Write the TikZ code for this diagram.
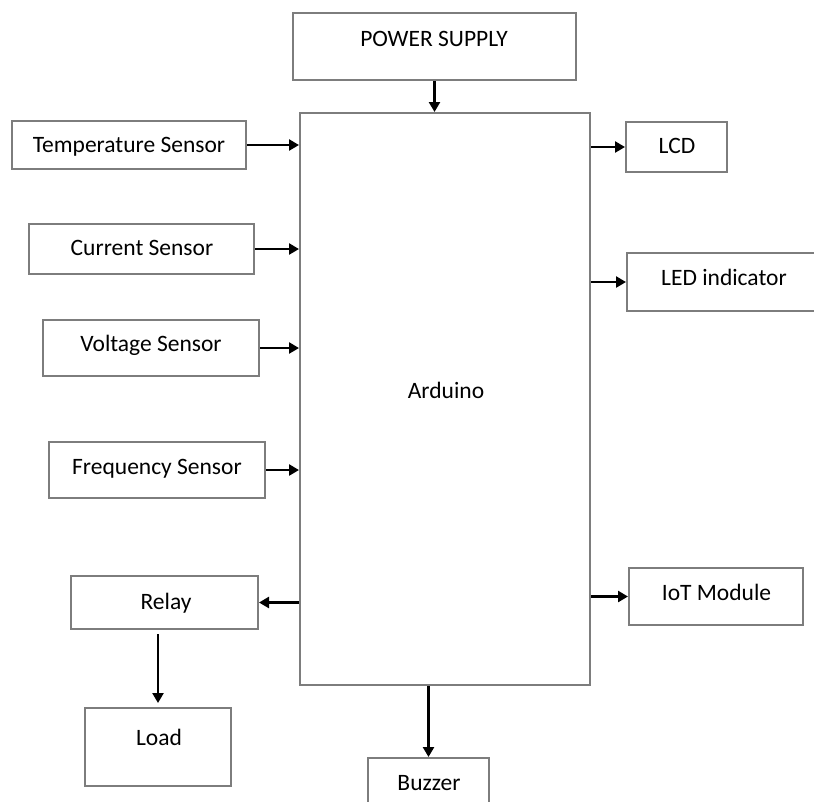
\documentclass[tikz,border=0pt]{standalone}
\usepackage{fontspec}
\setmainfont{Carlito}
\usetikzlibrary{positioning}
\usetikzlibrary{arrows.meta}
\definecolor{boxgray}{RGB}{125,125,125}

\begin{document}
\begin{tikzpicture}[x=1pt, y=-1pt,
    blk/.style={draw=boxgray, line width=2pt, inner sep=0pt},
    lbl/.style={font=\fontsize{23.5}{27}\selectfont, text height=15pt, text depth=4pt, inner sep=0pt},
    arr/.style={line width=2.6pt, -{Triangle[length=10pt,width=11pt]}}]
    \useasboundingbox (0,0) rectangle (814,801);

    \node[blk, minimum width=283pt, minimum height=67pt] (ps) at (434.5,46.5) {};
    \node[lbl] (ps-t) at (434,41) {POWER SUPPLY};

    \node[blk, minimum width=290pt, minimum height=572pt] (ard) at (445,399) {};
    \node[lbl] (ard-t) at (446,393) {Arduino};

    \node[blk, minimum width=234pt, minimum height=48pt] (temp) at (129,145) {};
    \node[lbl] (temp-t) at (129,147) {Temperature Sensor};
    \node[blk, minimum width=225pt, minimum height=50pt] (cur) at (141.5,249) {};
    \node[lbl] (cur-t) at (142,250) {Current Sensor};
    \node[blk, minimum width=216pt, minimum height=56pt] (volt) at (151,348) {};
    \node[lbl] (volt-t) at (151,346) {Voltage Sensor};
    \node[blk, minimum width=216pt, minimum height=56pt] (freq) at (157,470) {};
    \node[lbl] (freq-t) at (157,469) {Frequency Sensor};

    \node[blk, minimum width=187pt, minimum height=53pt] (relay) at (164.5,602.5) {};
    \node[lbl] (relay-t) at (166,604) {Relay};
    \node[blk, minimum width=146pt, minimum height=78pt] (load) at (158,747) {};
    \node[lbl] (load-t) at (159,740) {Load};
    \node[blk, minimum width=121pt, minimum height=64pt] (buzz) at (428.5,790) {};
    \node[lbl] (buzz-t) at (429,785) {Buzzer};

    \node[blk, minimum width=101pt, minimum height=50pt] (lcd) at (676.5,147) {};
    \node[lbl] (lcd-t) at (677,148) {LCD};
    \node[blk, minimum width=194pt, minimum height=58pt] (led) at (724,282) {};
    \node[lbl] (led-t) at (724,280) {LED indicator};
    \node[blk, minimum width=174pt, minimum height=57pt] (iot) at (716,596.5) {};
    \node[lbl] (iot-t) at (716.5,595) {IoT Module};

    \draw[arr] (ps.south) -- (ps.south |- ard.north);
    \draw[arr] (temp.east) -- (temp.east -| ard.west);
    \draw[arr] (cur.east) -- (cur.east -| ard.west);
    \draw[arr] (volt.east) -- (volt.east -| ard.west);
    \draw[arr] (freq.east) -- (freq.east -| ard.west);
    \draw[arr] (relay.east -| ard.west) -- (relay.east);
    \draw[arr, shorten <=4pt, shorten >=4pt] (load.north |- relay.south) -- (load.north);
    \draw[arr] (ard.south -| buzz.north) -- (buzz.north);
    \draw[arr] (lcd.west -| ard.east) -- (lcd.west);
    \draw[arr] (led.west -| ard.east) -- (led.west);
    \draw[arr] (iot.west -| ard.east) -- (iot.west);
\end{tikzpicture}
\end{document}
